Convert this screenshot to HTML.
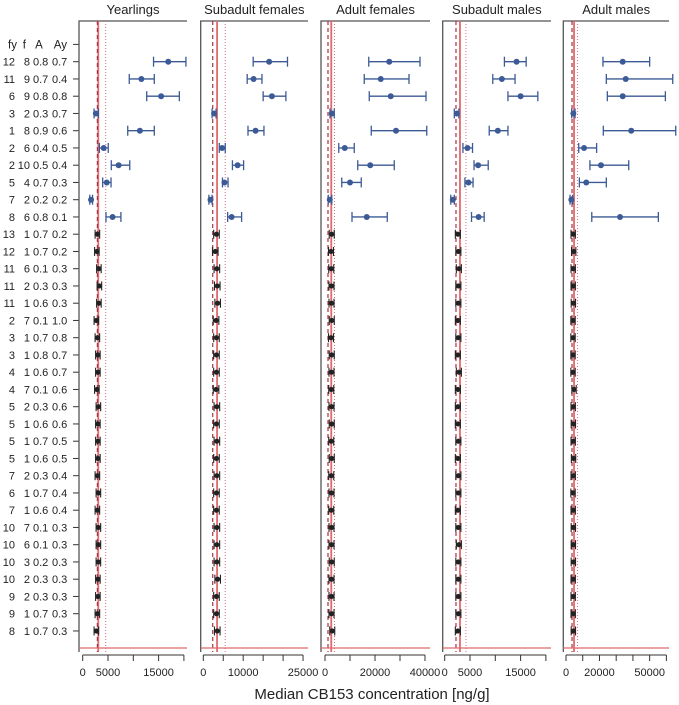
<!DOCTYPE html>
<html><head><meta charset="utf-8"><style>
html,body{margin:0;padding:0;background:#fff;}
svg{display:block;font-family:"Liberation Sans",sans-serif;}
</style></head><body>
<svg id="chart" width="679" height="705" viewBox="0 0 679 705" xmlns="http://www.w3.org/2000/svg"></svg>
<script>
const rowLabels = [
 ["12","8","0.8","0.7"],["11","9","0.7","0.4"],["6","9","0.8","0.8"],["3","2","0.3","0.7"],["1","8","0.9","0.6"],
 ["2","6","0.4","0.5"],["2","10","0.5","0.4"],["5","4","0.7","0.3"],["7","2","0.2","0.2"],["8","6","0.8","0.1"],
 ["13","1","0.7","0.2"],["12","1","0.7","0.2"],["11","6","0.1","0.3"],["11","2","0.3","0.3"],["11","1","0.6","0.3"],
 ["2","7","0.1","1.0"],["3","1","0.7","0.8"],["3","1","0.8","0.7"],["4","1","0.6","0.7"],["4","7","0.1","0.6"],
 ["5","2","0.3","0.6"],["5","1","0.6","0.6"],["5","1","0.7","0.5"],["5","1","0.6","0.5"],["7","2","0.3","0.4"],
 ["6","1","0.7","0.4"],["7","1","0.6","0.4"],["10","7","0.1","0.3"],["10","6","0.1","0.3"],["10","3","0.2","0.3"],
 ["10","2","0.3","0.3"],["9","2","0.3","0.3"],["9","1","0.7","0.3"],["8","1","0.7","0.3"]];
const panelTitles = ["Yearlings","Subadult females","Adult females","Subadult males","Adult males"];
// blue rows (first 10): median, lower, upper
const medYearlings = [16900,11600,15500,2600,11300,4150,7100,4750,1650,5900];
const loYearlings  = [14000,9200,12650,2250,8900,3300,5650,3950,1400,4600];
const hiYearlings  = [20400,14150,19100,3100,14150,5050,9300,5600,1950,7550];
const medSubF = [16500,12600,17200,2700,13100,4700,8600,5300,1800,7100];
const loSubF  = [12500,11000,15000,2200,11200,4000,7300,4800,1400,6100];
const hiSubF  = [21100,14700,20700,3200,15200,5500,10100,6200,2200,9600];
const medAdF = [25700,22300,26300,2700,28400,7900,18100,10000,1900,16700];
const loAdF  = [17500,15700,17700,2000,18500,5500,13100,6700,1300,10800];
const hiAdF  = [38000,33600,40400,3700,40700,11700,27700,14500,2700,24900];
const medSubM = [14200,11300,15000,2400,10500,4500,6600,4700,1600,6700];
const loSubM  = [11800,9500,12500,1900,8800,3600,5800,4000,1200,5300];
const hiSubM  = [16100,13900,18400,2800,12500,5500,8600,5600,1900,7800];
const medAdM = [33900,35700,33900,4400,39000,10800,20900,12100,3200,32300];
const loAdM  = [22100,24100,24700,3400,22300,7600,14300,8000,2400,15400];
const hiAdM  = [50000,63800,59400,5400,65600,18300,37500,24100,4000,55200];
// black rows (24): medians
const blkYearlings = [2900,2800,3200,3300,3200,2700,2900,3000,3000,2800,3100,3000,3000,3000,2900,3100,2900,3100,3100,3100,3000,3000,2900,2700];
const blkSubF = [3300,3000,3400,3500,3600,3200,3300,3300,3300,3200,3400,3300,3400,3300,3400,3300,3300,3400,3400,3400,3600,3300,3300,3500];
const blkAdF = [2700,2400,2500,2600,2600,2700,2400,2700,2600,2500,2600,2700,2500,2700,2500,2600,2500,2600,2600,2700,2600,2600,2600,2900];
const blkSubM = [2600,2700,2800,2700,2700,2600,2700,2600,2800,2600,2600,2600,2700,2600,2700,2700,2600,2700,2800,2700,2700,2700,2700,2600];
const blkAdM = [4300,4600,4300,4300,4400,4200,4200,4200,4200,4800,4300,4400,4300,4500,4300,4200,4300,4400,4400,4400,4300,4300,4300,4400];
// reference lines: solid, dashed, dotted
const refSolid  = [3080,3450,2500,3020,4800];
const refDashed = [2900,2360,1200,2230,3600];
const refDotted = [4550,5490,3800,4200,6900];
const tickVals = [[0,5000,10000,15000,20000],[0,5000,10000,15000,20000,25000],[0,10000,20000,30000,40000],[0,5000,10000,15000,20000],[0,10000,20000,30000,40000,50000,60000]];
const tickLabels = [["0","5000","","15000",""],["0","","10000","","","25000"],["0","","20000","","40000"],["0","5000","","15000",""],["0","","20000","","","50000",""]];
const meds=[medYearlings,medSubF,medAdF,medSubM,medAdM], los=[loYearlings,loSubF,loAdF,loSubM,loAdM], his=[hiYearlings,hiSubF,hiAdF,hiSubM,hiAdM];
const blks=[blkYearlings,blkSubF,blkAdF,blkSubM,blkAdM];
const blkHalfW=[450,700,1000,500,1300];

const geom=[{l:79,r:187,x0:82.7,k:25.3/5000},{l:200.7,r:308,x0:203.3,k:3.99/1000},{l:321,r:430,x0:325,k:2.5/1000},{l:442.7,r:551,x0:444.7,k:25.3/5000},{l:563.3,r:669,x0:566,k:16.73/10000}];
const svg=document.getElementById('chart');
const NS="http://www.w3.org/2000/svg";
function mk(t,a,p){const e=document.createElementNS(NS,t);for(const k in a)e.setAttribute(k,a[k]);(p||svg).appendChild(e);return e;}
const rowY=i=>61.7+i*17.25;
const headerY=44.4;
const hdr=mk('g',{});


[["fy",17,'end'],["f",26,'end'],["A",39,'middle'],["Ay",67,'end']].forEach(([t,x,a])=>{const e=mk('text',{x:x,y:headerY+4,'text-anchor':a,'font-size':11.5,fill:'#222'},hdr);e.textContent=t;});
mk('line',{x1:73,x2:79,y1:headerY,y2:headerY,stroke:'#333'},hdr);
const colX=[15,30,33,52], colA=['end','end','start','start'];
rowLabels.forEach((r,i)=>{const g=mk('g',{});
 
 
 r.forEach((t,j)=>{const e=mk('text',{x:colX[j],y:rowY(i)+4,'text-anchor':colA[j],'font-size':11,fill:'#222'},g);e.textContent=t;});
 mk('line',{x1:73,x2:79,y1:rowY(i),y2:rowY(i),stroke:'#333'},g);
});
geom.forEach((g,p)=>{
 const X=v=>g.x0+v*g.k;
 const pg=mk('g',{});
 
 
 const tt=mk('text',{x:(g.l+g.r)/2,y:14,'text-anchor':'middle','font-size':13,fill:'#222'},pg);tt.textContent=panelTitles[p];
 
 
 mk('path',{d:`M${g.l},652 L${g.l},21 L${g.r},21`,stroke:'#555','stroke-width':1.3,fill:'none'},pg);
 const rs=mk('line',{x1:X(refSolid[p]),x2:X(refSolid[p]),y1:21,y2:652,stroke:'#e06a6a','stroke-width':1.8},pg);
 
 
 const rd=mk('line',{x1:X(refDashed[p]),x2:X(refDashed[p]),y1:21,y2:652,stroke:'#a8304a','stroke-width':1.2,'stroke-dasharray':'4,3'},pg);
 
 
 const rt=mk('line',{x1:X(refDotted[p]),x2:X(refDotted[p]),y1:21,y2:652,stroke:'#d07080','stroke-width':1,'stroke-dasharray':'1,2'},pg);
 
 
 const hl=mk('line',{x1:g.l,x2:g.r,y1:648,y2:648,stroke:'#e06a6a','stroke-width':1.3},pg);
 
 
 meds[p].forEach((m,i)=>{const y=rowY(i);const c='#3b5a96';
  const e=mk('g',{},pg);
  
  
  mk('line',{x1:X(los[p][i]),x2:X(his[p][i]),y1:y,y2:y,stroke:c,'stroke-width':1.3},e);
  mk('line',{x1:X(los[p][i]),x2:X(los[p][i]),y1:y-5,y2:y+5,stroke:c,'stroke-width':1.3},e);
  mk('line',{x1:X(his[p][i]),x2:X(his[p][i]),y1:y-5,y2:y+5,stroke:c,'stroke-width':1.3},e);
  mk('circle',{cx:X(m),cy:y,r:3,fill:c},e);
 });
 blks[p].forEach((m,i)=>{const y=rowY(i+10);const c='#222';const h=blkHalfW[p];
  const e=mk('g',{},pg);
  
  
  mk('line',{x1:X(m-h),x2:X(m+h),y1:y,y2:y,stroke:c,'stroke-width':1.1},e);
  mk('line',{x1:X(m-h),x2:X(m-h),y1:y-4.5,y2:y+4.5,stroke:c,'stroke-width':1.1},e);
  mk('line',{x1:X(m+h),x2:X(m+h),y1:y-4.5,y2:y+4.5,stroke:c,'stroke-width':1.1},e);
  mk('circle',{cx:X(m),cy:y,r:2.6,fill:c},e);
 });
 const ax=mk('g',{},pg);
 
 
 const tv=tickVals[p];
 mk('line',{x1:X(tv[0]),x2:X(tv[tv.length-1]),y1:655,y2:655,stroke:'#333'},ax);
 tv.forEach((v,j)=>{mk('line',{x1:X(v),x2:X(v),y1:655,y2:661,stroke:'#333'},ax);
  if(tickLabels[p][j]){const t=mk('text',{x:X(v),y:676,'text-anchor':'middle','font-size':11,fill:'#222'},ax);t.textContent=tickLabels[p][j];}});
});
const xl=mk('text',{x:372,y:699,'text-anchor':'middle','font-size':15,fill:'#222'});
xl.textContent='Median CB153 concentration [ng/g]';


</script>
</body></html>
